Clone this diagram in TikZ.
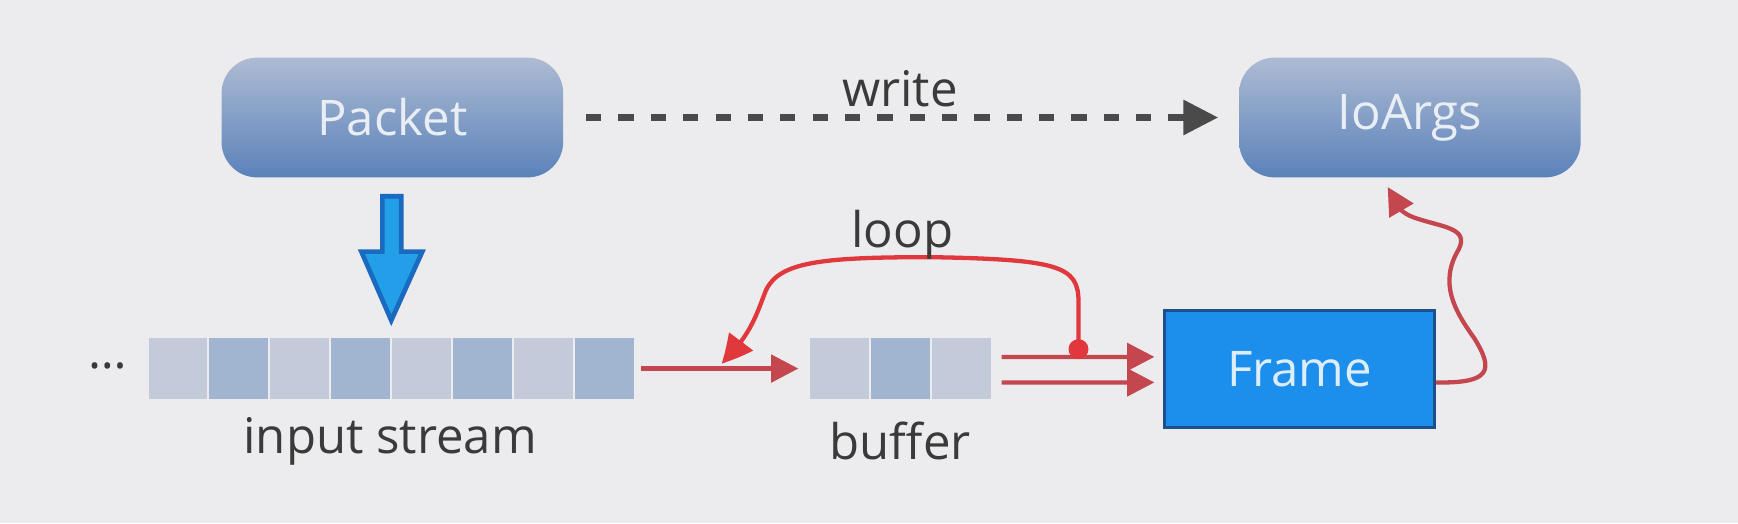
\documentclass[tikz,border=0pt]{standalone}
\usepackage{fontspec}
\setmainfont{Open Sans}
\usetikzlibrary{arrows.meta,calc,bending}
\definecolor{bg}{HTML}{ECECEE}
\definecolor{boxtop}{HTML}{AEBBD3}
\definecolor{boxbot}{HTML}{5A82BA}
\definecolor{boxtxt}{HTML}{E9EEF5}
\definecolor{dtxt}{HTML}{3A3A3A}
\definecolor{dashc}{HTML}{4A4A4A}
\definecolor{celllight}{HTML}{C3CAD9}
\definecolor{celldark}{HTML}{A1B4D0}
\definecolor{mred}{HTML}{C4474F}
\definecolor{bred}{HTML}{E0383C}
\definecolor{framefill}{HTML}{1C8EEB}
\definecolor{frameborder}{HTML}{1F4F8A}
\definecolor{framet}{HTML}{DDEEFA}
\definecolor{bafill}{HTML}{229FE8}
\definecolor{baborder}{HTML}{1A6AC0}
\tikzset{
  txtfont/.style={font=\fontsize{12.6}{15}\selectfont},
  rbox/.style={rounded corners=0.32cm, minimum width=3.08cm, minimum height=1.08cm,
    top color=boxtop, bottom color=boxbot, draw=none, text=boxtxt, txtfont},
  lbl/.style={text=dtxt, txtfont},
  cellL/.style={fill=celllight, minimum width=0.53cm, minimum height=0.55cm, inner sep=0pt},
  cellD/.style={fill=celldark, minimum width=0.53cm, minimum height=0.55cm, inner sep=0pt},
  redline/.style={draw=mred, line width=1.1pt, -{Triangle[length=7pt,width=7pt]}},
  loopline/.style={draw=bred, line width=1.1pt, -{Triangle[length=7.5pt,width=7.5pt,bend]}},
}
\begin{document}
\begin{tikzpicture}[x=0.01cm,y=-0.01cm]
\fill[bg] (0,0) rectangle (1568,472);
\useasboundingbox (0,0) rectangle (1568,472);

\node[rbox] (packet) at (354,106) {Packet};
\node[rbox] (ioargs) at (1272,106) {IoArgs};

\draw[draw=dashc, line width=2pt, dash pattern=on 3.9pt off 4.4pt,
  -{Triangle[length=9pt,width=8.6pt,fill=dashc]}, shorten <=0.2cm, shorten >=0.18cm]
  (packet.east) -- (ioargs.west);
\node[lbl] (write) at (812,80) {write};

% blue block arrow
\filldraw[fill=bafill, draw=baborder, line width=1.2pt, line join=miter]
  (345,177) -- (362,177) -- (362,227) -- (381,227) -- (353,289) -- (326,227) -- (345,227) -- cycle;

% input stream cells
\foreach \i/\s in {1/cellL,2/cellD,3/cellL,4/cellD,5/cellL,6/cellD,7/cellL,8/cellD}{
  \node[\s] (s\i) at ({160.5+55*(\i-1)},332.5) {};
}
\node[lbl] (dots) at (97,330) {…};
\node[lbl] (instream) at (352,398) {input stream};

% buffer cells
\node[cellL] (b1) at (757.5,332.5) {};
\node[cellD] (b2) at (812.5,332.5) {};
\node[cellL] (b3) at (867.5,332.5) {};
\node[lbl] (buffer) at (812,398) {buffer};

\draw[redline, shorten <=0.06cm, shorten >=0.1cm] (s8.east) -- (b1.west);

% frame
\node[fill=framefill, draw=frameborder, line width=0.8pt, minimum width=2.43cm,
  minimum height=1.06cm, text=framet, txtfont] (frame) at (1172.5,333) {Frame};

\draw[redline, shorten <=0.09cm, shorten >=0.08cm] ([yshift=0.105cm]b3.east) -- ([yshift=0.11cm]frame.west);
\draw[redline, shorten <=0.09cm, shorten >=0.08cm] ([yshift=-0.125cm]b3.east) -- ([yshift=-0.12cm]frame.west);

\node[circle, fill=bred, inner sep=0pt, minimum size=0.18cm] (dot) at (973,315) {};
\draw[loopline] (dot.center) -- (973,272)
  .. controls (973,240) and (955,234) .. (840,232)
  .. controls (742,232) and (703,236) .. (691,262)
  .. controls (683,282) and (678,302) .. (651,328);
\node[lbl] (loop) at (814,212) {loop};

\draw[redline] ([yshift=-0.12cm]frame.east)
  .. controls (1345,346) and (1348,334) .. (1330,305)
  .. controls (1312,280) and (1298,255) .. (1316,225)
  .. controls (1326,205) and (1300,205) .. (1275,196)
  .. controls (1262,191) and (1256,182) .. ([xshift=-0.2cm,yshift=-0.08cm]ioargs.south);
\end{tikzpicture}
\end{document}
